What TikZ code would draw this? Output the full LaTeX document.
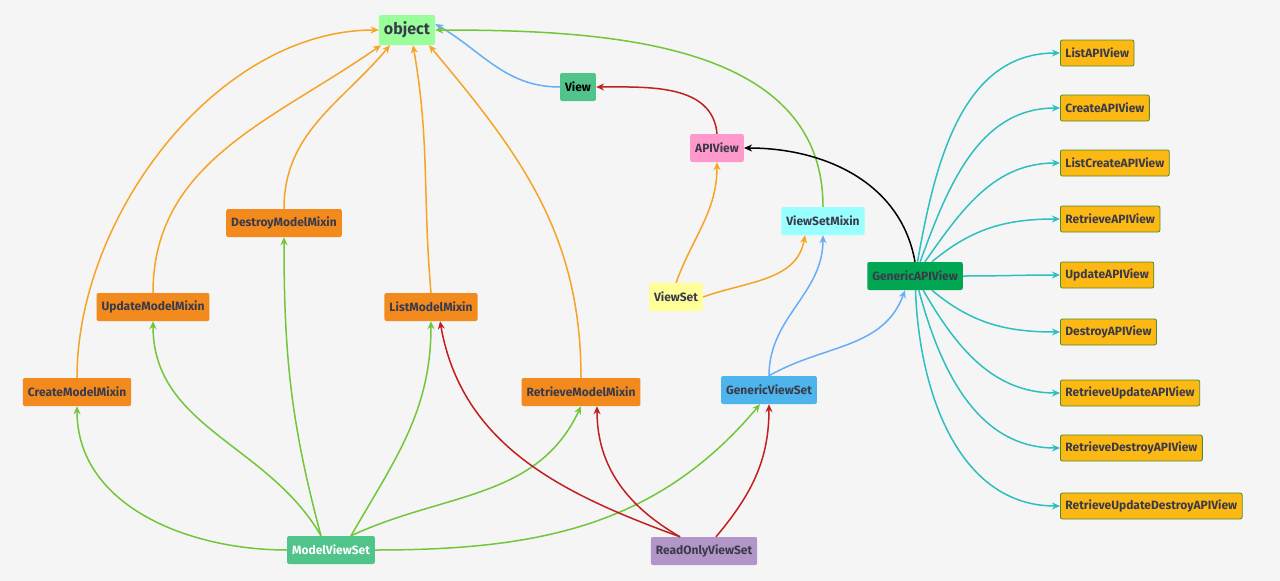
\documentclass[tikz,border=0pt]{standalone}
\usepackage{fontspec}
\setmainfont{Fira Sans}
\usetikzlibrary{arrows.meta}
\definecolor{txt}{HTML}{3A3A4A}
\definecolor{cOr}{HTML}{F28A1E}
\definecolor{aOr}{HTML}{F7A325}
\definecolor{aGr}{HTML}{72C63A}
\definecolor{aBl}{HTML}{66AEF5}
\definecolor{aRd}{HTML}{C0201E}
\definecolor{aTe}{HTML}{2EBFBF}
\definecolor{cYe}{HTML}{FDB913}
\definecolor{bg}{HTML}{F5F5F5}
\tikzset{
 box/.style={draw=none,rounded corners=2pt,minimum height=28pt,inner xsep=5pt,font=\fontsize{12}{14}\selectfont\bfseries,text=txt},
 rb/.style={box,fill=cYe,draw=aGr!70!black,line width=0.8pt,anchor=west,minimum height=26pt},
 e/.style={line width=1.5pt,-{Stealth[length=8pt,width=7pt]}},
}
\begin{document}
\begin{tikzpicture}[x=1pt,y=-1pt]
\fill[bg] (0,0) rectangle (1280,581);
\useasboundingbox (0,0) rectangle (1280,581);
\node[box,fill={rgb,255:red,154;green,255;blue,154},font=\fontsize{16}{18}\selectfont\bfseries,minimum height=30pt] (obj) at (407,30) {object};
\node[box,fill={rgb,255:red,80;green,196;blue,138},text=black] (view) at (578,87) {View};
\node[box,fill={rgb,255:red,255;green,153;blue,204}] (api) at (717,148) {APIView};
\node[box,fill={rgb,255:red,153;green,255;blue,255}] (vsm) at (823,221) {ViewSetMixin};
\node[box,fill={rgb,255:red,255;green,255;blue,153}] (vs) at (676,297) {ViewSet};
\node[box,fill={rgb,255:red,0;green,166;blue,81}] (gav) at (915,276) {GenericAPIView};
\node[box,fill={rgb,255:red,77;green,181;blue,235}] (gvs) at (769,390) {GenericViewSet};
\node[box,fill=cOr] (dmm) at (284,223) {DestroyModelMixin};
\node[box,fill=cOr] (umm) at (153,307) {UpdateModelMixin};
\node[box,fill=cOr] (lmm) at (431,307) {ListModelMixin};
\node[box,fill=cOr] (cmm) at (77,392) {CreateModelMixin};
\node[box,fill=cOr] (rmm) at (581,392) {RetrieveModelMixin};
\node[box,fill={rgb,255:red,80;green,196;blue,138},text=white] (mvs) at (331,550) {ModelViewSet};
\node[box,fill={rgb,255:red,178;green,150;blue,200}] (rovs) at (704,551) {ReadOnlyViewSet};
\foreach \n/\y/\t in {r1/53/ListAPIView,r2/108/CreateAPIView,r3/163/ListCreateAPIView,r4/219/RetrieveAPIView,r5/275/UpdateAPIView,r6/332/DestroyAPIView,r7/393/RetrieveUpdateAPIView,r8/448/RetrieveDestroyAPIView,r9/506/RetrieveUpdateDestroyAPIView}
  \node[rb] (\n) at (1060,\y) {\t};
% orange to object
\draw[e,aOr] (cmm.north) to[out=90,in=180,looseness=0.9] (obj.west);
\draw[e,aOr] (umm.north) to[out=90,in=-145] ([xshift=-26pt]obj.south);
\draw[e,aOr] (dmm.north) to[out=90,in=-130] ([xshift=-17pt]obj.south);
\draw[e,aOr] (lmm.north) to[out=95,in=-80] ([xshift=6pt]obj.south);
\draw[e,aOr] (rmm.north) to[out=90,in=-50] ([xshift=22pt]obj.south);
\draw[e,aBl] (view.west) to[out=180,in=-30] ([yshift=6pt]obj.east);
\draw[e,aRd] (api.north) to[out=95,in=0] (view.east);
\draw[e,aGr] (vsm.north) to[out=90,in=0] (obj.east);
\draw[e,black] (gav.north) to[out=100,in=0] (api.east);
\draw[e,aOr] (vs.north) to[out=70,in=-90] (api.south);
\draw[e,aOr] (vs.east) to[out=20,in=-100] ([xshift=-18pt]vsm.south);
\draw[e,aBl] (gvs.north) to[out=90,in=-90] (vsm.south);
\draw[e,aBl] (gvs.north) to[out=30,in=-110] ([xshift=-10pt]gav.south);
% ModelViewSet
\draw[e,aGr] (mvs.west) to[out=180,in=-90] (cmm.south);
\draw[e,aGr] ([xshift=-10pt]mvs.north) to[out=120,in=-90] (umm.south);
\draw[e,aGr] ([xshift=-10pt]mvs.north) to[out=105,in=-90] (dmm.south);
\draw[e,aGr] ([xshift=20pt]mvs.north) to[out=60,in=-90] (lmm.south);
\draw[e,aGr] ([xshift=20pt]mvs.north) to[out=25,in=-115] (rmm.south);
\draw[e,aGr] (mvs.east) to[out=0,in=-130] ([xshift=-9pt]gvs.south);
% ReadOnly
\draw[e,aRd] ([xshift=-24pt]rovs.north) to[out=160,in=-80] ([xshift=9pt]lmm.south);
\draw[e,aRd] ([xshift=-24pt]rovs.north) to[out=150,in=-90] ([xshift=16pt]rmm.south);
\draw[e,aRd] ([xshift=12pt]rovs.north) to[out=50,in=-90] (gvs.south);
% teal
\foreach \n/\o in {r1/80,r2/70,r3/55,r4/40,r5/0,r6/-40,r7/-60,r8/-75,r9/-88}
  \draw[e,aTe] (gav) to[out=\o,in=180] (\n.west);
\end{tikzpicture}
\end{document}
